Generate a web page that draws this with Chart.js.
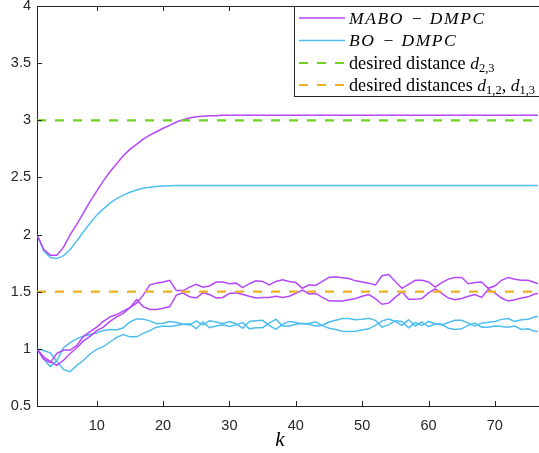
<!DOCTYPE html>
<html><head><meta charset="utf-8">
<script src="https://cdn.jsdelivr.net/npm/chart.js@4"></script>
<style>html,body{margin:0;padding:0;background:#fff}#wrap{width:539px;height:453px}</style>
</head><body><div id="wrap"><canvas id="c" width="539" height="453"></canvas></div>
<script>
// ---- data ----
const kSteps = [1,2,3,4,5,6,7,8,9,10,11,12,13,14,15,16,17,18,19,20,21,22,23,24,25,26,27,28,29,30,31,32,33,34,35,36,37,38,39,40,41,42,43,44,45,46,47,48,49,50,51,52,53,54,55,56,57,58,59,60,61,62,63,64,65,66,67,68,69,70,71,72,73,74,75,76,77];

// MABO-DMPC distances
const maboD23 = [2.00,1.87,1.82,1.82,1.89,2.00,2.09,2.19,2.29,2.38,2.47,2.55,2.62,2.69,2.745,2.79,2.835,2.87,2.90,2.93,2.955,2.985,3.005,3.02,3.03,3.035,3.04,3.04,3.043,3.045,3.045,3.045,3.045,3.045,3.045,3.045,3.045,3.045,3.045,3.045,3.045,3.045,3.045,3.045,3.045,3.045,3.045,3.045,3.045,3.045,3.045,3.045,3.045,3.045,3.045,3.045,3.045,3.045,3.045,3.045,3.045,3.045,3.045,3.045,3.045,3.045,3.045,3.045,3.045,3.045,3.045,3.045,3.045,3.045,3.045,3.045,3.045];
const maboD12 = [1.00,0.91,0.88,0.96,0.99,0.99,1.03,1.11,1.15,1.19,1.24,1.28,1.30,1.33,1.36,1.40,1.47,1.56,1.575,1.585,1.60,1.51,1.51,1.54,1.565,1.54,1.55,1.585,1.585,1.57,1.575,1.535,1.57,1.595,1.59,1.56,1.59,1.605,1.59,1.58,1.53,1.56,1.555,1.59,1.625,1.63,1.623,1.615,1.595,1.585,1.575,1.56,1.64,1.65,1.59,1.53,1.565,1.60,1.60,1.585,1.54,1.58,1.61,1.625,1.625,1.57,1.58,1.585,1.53,1.55,1.60,1.625,1.61,1.60,1.60,1.58,1.56];
const maboD13 = [1.00,0.93,0.89,0.855,0.90,0.96,1.01,1.07,1.11,1.16,1.19,1.24,1.28,1.31,1.36,1.43,1.37,1.345,1.345,1.355,1.37,1.47,1.49,1.455,1.445,1.49,1.475,1.445,1.45,1.485,1.49,1.475,1.46,1.445,1.45,1.45,1.46,1.45,1.46,1.485,1.515,1.48,1.485,1.45,1.42,1.418,1.418,1.43,1.44,1.46,1.475,1.44,1.39,1.40,1.45,1.50,1.435,1.433,1.44,1.49,1.525,1.485,1.445,1.43,1.44,1.46,1.475,1.45,1.52,1.49,1.445,1.418,1.43,1.445,1.455,1.48,1.49];

// BO-DMPC distances
const boD23 = [2.00,1.86,1.80,1.79,1.815,1.87,1.945,2.025,2.10,2.17,2.225,2.275,2.315,2.345,2.37,2.39,2.405,2.415,2.42,2.425,2.428,2.43,2.43,2.43,2.43,2.43,2.43,2.43,2.43,2.43,2.43,2.43,2.43,2.43,2.43,2.43,2.43,2.43,2.43,2.43,2.43,2.43,2.43,2.43,2.43,2.43,2.43,2.43,2.43,2.43,2.43,2.43,2.43,2.43,2.43,2.43,2.43,2.43,2.43,2.43,2.43,2.43,2.43,2.43,2.43,2.43,2.43,2.43,2.43,2.43,2.43,2.43,2.43,2.43,2.43,2.43,2.43];
const boD12 = [1.00,0.91,0.845,0.90,1.01,1.055,1.09,1.11,1.125,1.14,1.16,1.17,1.165,1.185,1.235,1.262,1.26,1.245,1.22,1.225,1.24,1.23,1.215,1.21,1.245,1.21,1.245,1.235,1.22,1.24,1.22,1.18,1.24,1.245,1.25,1.205,1.17,1.215,1.24,1.23,1.22,1.215,1.20,1.205,1.235,1.25,1.265,1.265,1.255,1.26,1.268,1.25,1.19,1.21,1.245,1.24,1.185,1.23,1.205,1.24,1.22,1.21,1.23,1.25,1.25,1.225,1.20,1.225,1.233,1.24,1.258,1.265,1.24,1.255,1.258,1.28,1.285];
const boD13 = [1.00,0.985,0.965,0.89,0.82,0.80,0.855,0.90,0.955,0.995,1.02,1.06,1.10,1.125,1.105,1.105,1.135,1.16,1.19,1.20,1.195,1.205,1.215,1.22,1.175,1.235,1.185,1.20,1.21,1.195,1.21,1.23,1.175,1.185,1.185,1.225,1.26,1.20,1.20,1.215,1.222,1.225,1.235,1.205,1.18,1.17,1.155,1.152,1.155,1.165,1.175,1.205,1.245,1.26,1.24,1.205,1.255,1.20,1.235,1.195,1.22,1.215,1.18,1.17,1.175,1.205,1.225,1.19,1.19,1.20,1.195,1.19,1.20,1.17,1.175,1.155,1.15];

// desired distances
const desiredD23 = 3;
const desiredD12 = 1.5;

// axes
const xTickValues = [10,20,30,40,50,60,70];
const xTickLabels = ['10','20','30','40','50','60','70'];
const yTickValues = [0.5,1,1.5,2,2.5,3,3.5,4];
const yTickLabels = ['0.5','1','1.5','2','2.5','3','3.5','4'];
const xAxisLabel = 'k';

// legend text
const legendEntries = [
  {color:'#b547fb', dash:false, parts:[['it','MABO'],['op','\u2212'],['it','DMPC']]},
  {color:'#4dbeee', dash:false, parts:[['it','BO'],['op','\u2212'],['it','DMPC']]},
  {color:'#6fd21f', dash:true,  parts:[['rm','desired distance '],['it','d'],['sub','2,3']]},
  {color:'#edb120', dash:true,  parts:[['rm','desired distances '],['it','d'],['sub','1,2'],['rm',', '],['it','d'],['sub','1,3']]}
];

const PURPLE = '#b547fb', BLUE = '#4dbeee', GREEN = '#6fd21f', ORANGE = '#edb120';
const AX = '#262626';

const pts = arr => kSteps.map((k,i)=>({x:k, y:arr[i]}));
const flat = v => kSteps.map(k=>({x:k, y:v}));

const solid = (arr,color)=>({data:pts(arr), borderColor:color, borderWidth:1.5, pointRadius:0, fill:false, order:2});
const dashed = (v,color)=>({data:flat(v), borderColor:color, borderWidth:2.2, borderDash:[9,9], pointRadius:0, fill:false, order:0});

const serif = '"Liberation Serif", "Times New Roman", serif';

const matlabPlugin = {
  id:'matlab',
  afterDraw(chart){
    const ctx = chart.ctx, a = chart.chartArea, xs = chart.scales.x, ys = chart.scales.y;
    ctx.save();
    ctx.strokeStyle = AX; ctx.lineWidth = 1;
    // top border
    ctx.beginPath(); ctx.moveTo(a.left, a.top+0.5); ctx.lineTo(a.right+2, a.top+0.5); ctx.stroke();
    // inward ticks
    ctx.beginPath();
    xTickValues.forEach(v=>{
      const x = Math.round(xs.getPixelForValue(v))+0.5;
      ctx.moveTo(x, a.bottom); ctx.lineTo(x, a.bottom-5);
      ctx.moveTo(x, a.top); ctx.lineTo(x, a.top+5);
    });
    yTickValues.forEach(v=>{
      const y = Math.round(ys.getPixelForValue(v))+0.5;
      ctx.moveTo(a.left, y); ctx.lineTo(a.left+5, y);
    });
    ctx.stroke();
    // x axis title
    ctx.fillStyle = '#000';
    ctx.font = 'italic 21px ' + serif;
    ctx.textAlign = 'center'; ctx.textBaseline = 'alphabetic';
    ctx.fillText(xAxisLabel, 280, 446);
    // legend
    const lx = 294.5, ly = a.top+0.5, lw = 260, lh = 90;
    ctx.fillStyle = '#fff';
    ctx.fillRect(lx, ly, lw, lh);
    ctx.strokeStyle = AX;
    ctx.strokeRect(lx, ly, lw, lh);
    const rowY = [18, 40.5, 63, 85];
    legendEntries.forEach((e,i)=>{
      const y = rowY[i];
      ctx.beginPath();
      ctx.strokeStyle = e.color;
      ctx.lineWidth = e.dash ? 2.2 : 1.5;
      ctx.setLineDash(e.dash ? [9,9] : []);
      ctx.moveTo(299, y); ctx.lineTo(345, y); ctx.stroke();
      ctx.setLineDash([]);
      let x = 349;
      ctx.fillStyle = '#000'; ctx.textAlign = 'left'; ctx.textBaseline = 'alphabetic';
      e.parts.forEach(([style, t])=>{
        let yy = y + 5.5;
        ctx.letterSpacing = '0px';
        if (style==='it') { ctx.font = 'italic 17.5px ' + serif; if (t.length>1) ctx.letterSpacing = '1.6px'; }
        else if (style==='rm') ctx.font = '18.2px ' + serif;
        else if (style==='op') { ctx.font = '17.5px ' + serif; x += 8; }
        else { ctx.font = '12.5px ' + serif; yy = y + 9; }
        ctx.fillText(t, x, yy);
        x += ctx.measureText(t).width;
        if (style==='op') x += 8;
      });
    });
    ctx.restore();
  }
};

new Chart(document.getElementById('c'), {
  type:'line',
  data:{datasets:[
    dashed(desiredD23, GREEN),
    dashed(desiredD12, ORANGE),
    solid(maboD23, PURPLE), solid(maboD12, PURPLE), solid(maboD13, PURPLE),
    solid(boD23, BLUE), solid(boD12, BLUE), solid(boD13, BLUE)
  ]},
  options:{
    responsive:false, animation:false, devicePixelRatio:1,
    layout:{padding:{top:6, right:1, left:0, bottom:0}},
    plugins:{legend:{display:false}, tooltip:{enabled:false}},
    elements:{line:{tension:0}, point:{radius:0}},
    scales:{
      x:{type:'linear', min:1, max:76.5,
        grid:{display:false, drawTicks:false},
        border:{display:true, color:AX, width:1},
        ticks:{font:{family:'"Liberation Sans", Arial, sans-serif', size:14.5}, color:AX, padding:11, maxRotation:0, autoSkip:false,
          callback:v=>{ const i = xTickValues.indexOf(v); return i>=0 ? xTickLabels[i] : ''; }},
        afterBuildTicks:s=>{ s.ticks = xTickValues.map(v=>({value:v})); },
        afterFit:s=>{ s.height = 47; s.paddingLeft = 0; s.paddingRight = 0; }
      },
      y:{type:'linear', min:0.5, max:4,
        grid:{display:false, drawTicks:false},
        border:{display:true, color:AX, width:1},
        ticks:{font:{family:'"Liberation Sans", Arial, sans-serif', size:14.5}, color:AX, padding:6,
          callback:v=>{ const i = yTickValues.indexOf(v); return i>=0 ? yTickLabels[i] : ''; }},
        afterBuildTicks:s=>{ s.ticks = yTickValues.map(v=>({value:v})); },
        afterFit:s=>{ s.width = 37; s.paddingTop = 0; s.paddingBottom = 0; }
      }
    }
  },
  plugins:[matlabPlugin]
});
</script>
</body></html>
